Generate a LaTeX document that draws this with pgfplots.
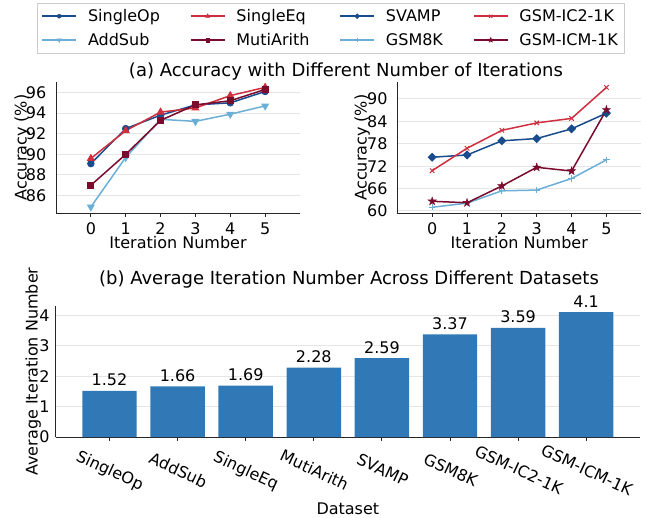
\documentclass[border=0pt]{standalone}
\usepackage{fontspec}
\setmainfont{DejaVu Sans}
\usepackage{pgfplots}
\pgfplotsset{compat=1.18}
\usetikzlibrary{plotmarks}
\definecolor{dblue}{HTML}{184C8C}
\definecolor{lblue}{HTML}{6BAED6}
\definecolor{rred}{HTML}{CF2E3E}
\definecolor{dred}{HTML}{7A0B2D}
\definecolor{barblue}{HTML}{3179B6}
\newcommand\fs{\fontsize{16bp}{19bp}\selectfont}
\newcommand\ft{\fontsize{18bp}{21bp}\selectfont}
\pgfdeclareplotmark{fstar}{%
 \pgfpathmoveto{\pgfpointpolar{90}{\pgfplotmarksize}}%
 \pgfpathlineto{\pgfpointpolar{126}{0.382\pgfplotmarksize}}%
 \pgfpathlineto{\pgfpointpolar{162}{\pgfplotmarksize}}%
 \pgfpathlineto{\pgfpointpolar{198}{0.382\pgfplotmarksize}}%
 \pgfpathlineto{\pgfpointpolar{234}{\pgfplotmarksize}}%
 \pgfpathlineto{\pgfpointpolar{270}{0.382\pgfplotmarksize}}%
 \pgfpathlineto{\pgfpointpolar{306}{\pgfplotmarksize}}%
 \pgfpathlineto{\pgfpointpolar{342}{0.382\pgfplotmarksize}}%
 \pgfpathlineto{\pgfpointpolar{18}{\pgfplotmarksize}}%
 \pgfpathlineto{\pgfpointpolar{54}{0.382\pgfplotmarksize}}%
 \pgfpathclose\pgfusepathqfillstroke}
\pgfplotsset{
  common/.style={
    scale only axis,
    anchor=south west,
    axis lines=left,
    axis line style={-, line width=1bp, black!85},
    tick align=outside,
    major tick length=3.5bp,
    xtick style={line width=1bp, black!85},
    ytick style={draw=none},
    ymajorgrids,
    grid style={line width=1bp, black!10},
    tick label style={font=\fs},
    label style={font=\fs},
    /pgf/number format/assume math mode=true,
    xticklabel style={inner sep=0pt, yshift=-5.7bp},
    yticklabel style={inner sep=0pt, xshift=-6bp},
  },
  lineaxis/.style={common, width=244bp, height=131.6bp, xmin=-1, xmax=6, xtick={0,...,5},
    xlabel={Iteration Number}, ylabel={Accuracy (\%)},
    xlabel style={at={(axis description cs:0.5,-0.266)}, anchor=base},
  },
}
\begin{document}
\begin{tikzpicture}
\path[use as bounding box] (0,0) rectangle (646bp,-518bp);
\node[font=\ft, anchor=base] at (346bp,-76.5bp) {(a) Accuracy with Different Number of Iterations};
\node[font=\ft, anchor=base] at (349bp,-284bp) {(b) Average Iteration Number Across Different Datasets};

% left line plot
\begin{axis}[lineaxis, at={(56bp,-213.3bp)},
  ymin=84.28, ymax=97.05, ytick={86,88,...,96},
  ylabel style={at={(axis description cs:-0.120,0.5)}, anchor=base},
  legend columns=4,
  legend cell align=left,
  legend style={at={(-0.0766,1.6003)}, anchor=north west, draw=black!20, fill=white,
    inner xsep=4bp, inner ysep=4.5bp, font=\fs, row sep=6.1bp,
    /tikz/every odd column/.append style={column sep=9bp},
    /tikz/every even column/.append style={column sep=28bp}},
  legend image code/.code={\draw[mark repeat=2,mark phase=2,#1] plot coordinates {(0bp,0bp) (17bp,0bp) (34bp,0bp)};},
]
\addplot[forget plot, dblue, line width=1.5bp, mark=*, mark size=3.2bp, mark options={line width=1bp}]
  coordinates {(0,89.1) (1,92.5) (2,93.8) (3,94.8) (4,95.0) (5,96.1)};
\addplot[forget plot, lblue, line width=1.5bp, mark=triangle*, mark size=3.8bp, mark options={line width=1bp, rotate=180}]
  coordinates {(0,84.9) (1,89.7) (2,93.4) (3,93.2) (4,93.9) (5,94.7)};
\addplot[forget plot, rred, line width=1.5bp, mark=triangle*, mark size=3.8bp, mark options={line width=1bp}]
  coordinates {(0,89.6) (1,92.3) (2,94.1) (3,94.5) (4,95.7) (5,96.5)};
\addplot[forget plot, dred, line width=1.5bp, mark=square*, mark size=3bp, mark options={line width=1bp}]
  coordinates {(0,87.0) (1,90.0) (2,93.3) (3,94.8) (4,95.2) (5,96.3)};
\addlegendimage{dblue, line width=1.5bp, mark=*, mark size=2bp, mark options={line width=0.5bp}}
\addlegendentry{SingleOp}
\addlegendimage{rred, line width=1.5bp, mark=triangle*, mark size=2.4bp, mark options={line width=0.5bp}}
\addlegendentry{SingleEq}
\addlegendimage{dblue, line width=1.5bp, mark=square*, mark size=1.7bp, mark options={line width=0.5bp, rotate=45}}
\addlegendentry{SVAMP}
\addlegendimage{rred, line width=1.5bp, mark=x, mark size=2.2bp, mark options={line width=0.8bp}}
\addlegendentry{GSM-IC2-1K}
\addlegendimage{lblue, line width=1.5bp, mark=triangle*, mark size=2.4bp, mark options={line width=0.5bp, rotate=180}}
\addlegendentry{AddSub}
\addlegendimage{dred, line width=1.5bp, mark=square*, mark size=1.8bp, mark options={line width=0.5bp}}
\addlegendentry{MutiArith}
\addlegendimage{lblue, line width=1.5bp, mark=+, mark size=2.4bp, mark options={line width=0.8bp}}
\addlegendentry{GSM8K}
\addlegendimage{dred, line width=1.5bp, mark=fstar, mark size=2.6bp, mark options={line width=0.5bp}}
\addlegendentry{GSM-ICM-1K}
\end{axis}

% right line plot
\begin{axis}[lineaxis, at={(397.3bp,-213.3bp)},
  ymin=59.38, ymax=94.63, ytick={60,66,...,90},
  ylabel style={at={(axis description cs:-0.1254,0.5)}, anchor=base},
]
\addplot[dblue, line width=1.5bp, mark=square*, mark size=2.7bp, mark options={line width=1bp, rotate=45}]
  coordinates {(0,74.4) (1,75.0) (2,78.8) (3,79.4) (4,82.0) (5,86.2)};
\addplot[lblue, line width=1.5bp, mark=+, mark size=3.2bp, mark options={line width=1bp}]
  coordinates {(0,61.0) (1,62.1) (2,65.4) (3,65.6) (4,68.7) (5,73.7)};
\addplot[rred, line width=1.5bp, mark=x, mark size=3.2bp, mark options={line width=1bp}]
  coordinates {(0,70.8) (1,76.8) (2,81.6) (3,83.6) (4,84.8) (5,93.1)};
\addplot[dred, line width=1.5bp, mark=fstar, mark size=4.2bp, mark options={line width=0.5bp}]
  coordinates {(0,62.6) (1,62.2) (2,66.7) (3,71.7) (4,70.7) (5,87.1)};
\end{axis}

% bar plot
\begin{axis}[common, at={(55.7bp,-437bp)}, width=584.3bp, height=131bp,
  ybar, bar width=0.8, xmin=-0.79, xmax=7.79, ymin=0, ymax=4.305,
  xtick={0,...,7}, ytick={0,1,2,3,4},
  xticklabels={SingleOp,AddSub,SingleEq,MutiArith,SVAMP,GSM8K,GSM-IC2-1K,GSM-ICM-1K},
  xticklabel style={xshift=3.4bp, yshift=-18bp, rotate=-25, anchor=north, inner sep=0pt},
  yticklabel style={xshift=3.6bp},
  xlabel={Dataset}, ylabel={Average Iteration Number},
  xlabel style={at={(axis description cs:0.5,-0.588)}, anchor=base},
  ylabel style={at={(axis description cs:-0.0308,0.5)}, anchor=base},
  nodes near coords={\pgfmathprintnumber{\pgfplotspointmeta}},
  every node near coord/.append style={font=\fs, anchor=south, inner sep=0pt, yshift=4.5bp, black},
]
\addplot[fill=barblue, draw=none]
  coordinates {(0,1.52) (1,1.66) (2,1.69) (3,2.28) (4,2.59) (5,3.37) (6,3.59) (7,4.1)};
\end{axis}
\end{tikzpicture}
\end{document}
